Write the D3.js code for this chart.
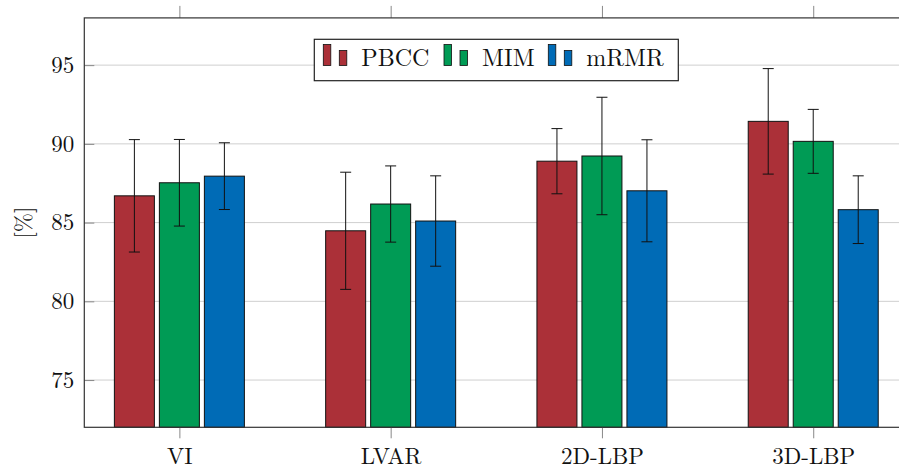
<!DOCTYPE html>
<html>
<head>
<meta charset="utf-8">
<script src="https://cdn.jsdelivr.net/npm/d3@7"></script>
<style>
  html, body { margin: 0; padding: 0; background: #fff; }
  svg { display: block; }
  text { font-family: "Latin Modern Roman", "CMU Serif", "Liberation Serif", "DejaVu Serif", serif; fill: #111; }
</style>
</head>
<body>
<svg id="chart" width="899" height="470"></svg>
<script>
// Feature sets on the x axis
const categories = ["VI", "LVAR", "2D-LBP", "3D-LBP"];
// Feature selection methods
const seriesNames = ["PBCC", "MIM", "mRMR"];
const seriesColors = ["#ab3038", "#009b55", "#006bb6"];
// Mean accuracy [%] per method, one entry per feature set
const pbccMean = [86.70, 84.48, 88.90, 91.43];
const mimMean  = [87.53, 86.18, 89.23, 90.16];
const mrmrMean = [87.95, 85.10, 87.02, 85.82];
// Standard deviation [%] per method
const pbccErr = [3.57, 3.72, 2.07, 3.35];
const mimErr  = [2.75, 2.42, 3.73, 2.03];
const mrmrErr = [2.12, 2.87, 3.24, 2.15];
// Y axis ticks and range
const yTicks = [75, 80, 85, 90, 95];
const yDomain = [72, 98];

const means = [pbccMean, mimMean, mrmrMean];
const errs = [pbccErr, mimErr, mrmrErr];

const svg = d3.select("#chart");
const plot = { left: 84.3, right: 908.3, top: 17.9, bottom: 427.3 };
const fontSize = 23;

const x = d3.scalePoint().domain(categories).range([plot.left, plot.right]).padding(0.45);
const xs = d3.scaleBand().domain(seriesNames).range([-65, 65]).paddingInner(1 / 9).paddingOuter(0);
const y = d3.scaleLinear().domain(yDomain).range([plot.bottom, plot.top]);

// Horizontal grid
svg.append("g").selectAll("line").data(yTicks).join("line")
  .attr("x1", plot.left).attr("x2", plot.right)
  .attr("y1", d => y(d)).attr("y2", d => y(d))
  .attr("stroke", "#cfcfcf").attr("stroke-width", 1);

// Bars
const rows = [];
categories.forEach((c, i) => {
  seriesNames.forEach((s, j) => {
    rows.push({ cat: c, series: s, j, mean: means[j][i], err: errs[j][i] });
  });
});

svg.append("g").selectAll("rect").data(rows).join("rect")
  .attr("x", d => x(d.cat) + xs(d.series))
  .attr("y", d => y(d.mean))
  .attr("width", xs.bandwidth())
  .attr("height", d => plot.bottom - y(d.mean))
  .attr("fill", d => seriesColors[d.j])
  .attr("stroke", "#111").attr("stroke-width", 1);

// Error bars
const errG = svg.append("g").attr("stroke", "#111").attr("stroke-width", 1);
rows.forEach(d => {
  const cx = x(d.cat) + xs(d.series) + xs.bandwidth() / 2;
  const y0 = y(d.mean - d.err), y1 = y(d.mean + d.err);
  errG.append("line").attr("x1", cx).attr("x2", cx).attr("y1", y0).attr("y2", y1);
  errG.append("line").attr("x1", cx - 5.5).attr("x2", cx + 5.5).attr("y1", y0).attr("y2", y0);
  errG.append("line").attr("x1", cx - 5.5).attr("x2", cx + 5.5).attr("y1", y1).attr("y2", y1);
});

// Y axis: ticks inside the frame, labels to the left
const yAxis = d3.axisLeft(y).tickValues(yTicks).tickSizeInner(-10).tickSizeOuter(0).tickPadding(10);
const yg = svg.append("g").attr("transform", `translate(${plot.left},0)`).call(yAxis);
yg.select(".domain").remove();
yg.selectAll(".tick line").attr("stroke", "#888");
yg.selectAll(".tick text").attr("font-size", fontSize).attr("fill", "#111");
yg.attr("font-family", null);

// X axis: ticks outside the frame on both sides
const xAxis = d3.axisBottom(x).tickSizeInner(11).tickSizeOuter(0).tickPadding(0);
const xg = svg.append("g").attr("transform", `translate(0,${plot.bottom})`).call(xAxis);
xg.select(".domain").remove();
xg.selectAll(".tick line").attr("stroke", "#888");
xg.selectAll(".tick text").attr("font-size", fontSize).attr("fill", "#111")
  .attr("y", 37).attr("dy", null);
xg.attr("font-family", null);

const xTop = d3.axisTop(x).tickSizeInner(12).tickSizeOuter(0).tickFormat("");
const xtg = svg.append("g").attr("transform", `translate(0,${plot.top})`).call(xTop);
xtg.select(".domain").remove();
xtg.selectAll(".tick line").attr("stroke", "#888");

// Frame
svg.append("rect")
  .attr("x", plot.left).attr("y", plot.top)
  .attr("width", plot.right - plot.left).attr("height", plot.bottom - plot.top)
  .attr("fill", "none").attr("stroke", "#333").attr("stroke-width", 1.2);

// Y axis title
svg.append("text")
  .attr("transform", `translate(31,${(plot.top + plot.bottom) / 2}) rotate(-90)`)
  .attr("text-anchor", "middle")
  .attr("font-size", fontSize)
  .text("[%]");

// Legend: two small bars per entry followed by the method name
const legendBox = { x: 314.3, y: 39.3, w: 364, h: 41.4 };
const legendEntryX = [323.3, 444, 548.3];
const legend = svg.append("g");
legend.append("rect")
  .attr("x", legendBox.x).attr("y", legendBox.y)
  .attr("width", legendBox.w).attr("height", legendBox.h)
  .attr("fill", "#fff").attr("stroke", "#222").attr("stroke-width", 1.2);
seriesNames.forEach((s, j) => {
  const lx = legendEntryX[j];
  legend.append("rect").attr("x", lx).attr("y", 44.5).attr("width", 7.5).attr("height", 21)
    .attr("fill", seriesColors[j]).attr("stroke", "#111").attr("stroke-width", 0.8);
  legend.append("rect").attr("x", lx + 16).attr("y", 50.5).attr("width", 7.5).attr("height", 15)
    .attr("fill", seriesColors[j]).attr("stroke", "#111").attr("stroke-width", 0.8);
  legend.append("text").attr("x", lx + 38).attr("y", 65.7)
    .attr("font-size", fontSize + 1).text(s);
});
</script>
</body>
</html>
